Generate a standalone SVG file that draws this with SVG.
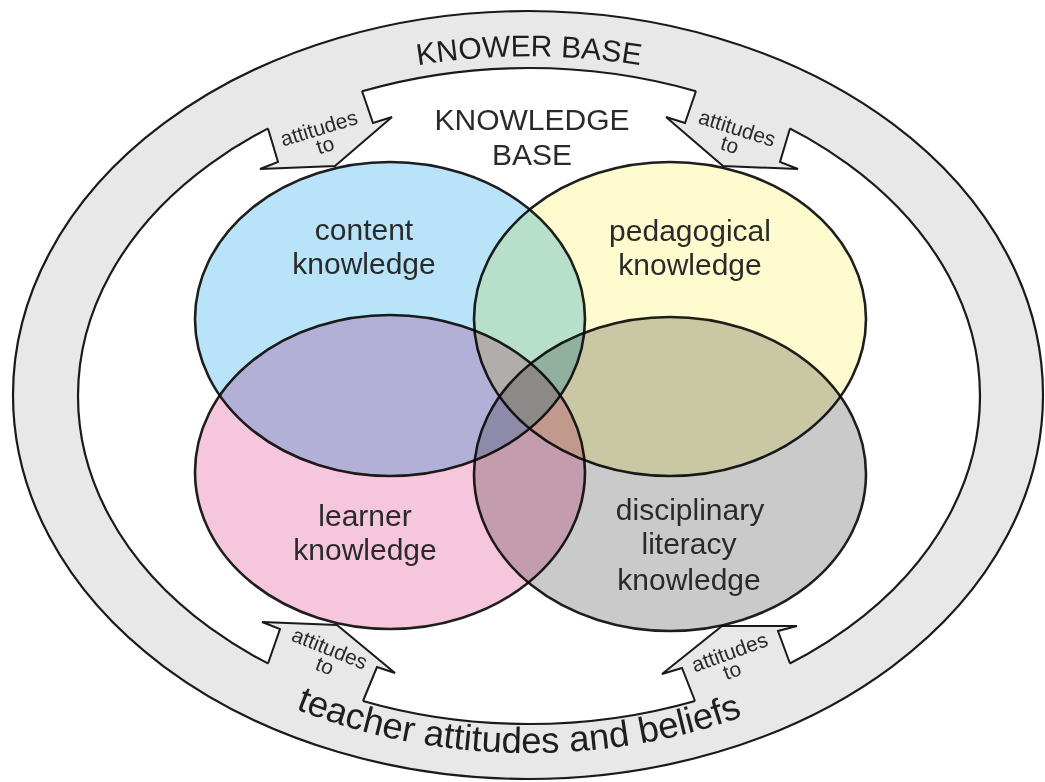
<svg xmlns="http://www.w3.org/2000/svg" width="1045" height="782" viewBox="0 0 1045 782">
  <style>
    .band { fill: #e8e8e8; stroke: #1a1a1a; stroke-width: 2.2; }
    .inner { fill: #ffffff; stroke: #1a1a1a; stroke-width: 2.2; }
    .afill { fill: #e8e8e8; stroke: none; }
    .aline { fill: none; stroke: #1a1a1a; stroke-width: 2; stroke-linejoin: miter; }
    .venn { mix-blend-mode: multiply; }
    .venn ellipse { stroke: #1e1e1e; stroke-width: 2.6; }
    .lbl { font-family: "Liberation Sans", Arial, sans-serif; font-size: 30px; fill: #2a2a2a; text-anchor: middle; }
    .att { font-family: "Liberation Sans", Arial, sans-serif; font-size: 21px; fill: #2a2a2a; text-anchor: middle; }
    .big { font-family: "Liberation Sans", Arial, sans-serif; fill: #1e1e1e; }
  </style>
  <defs>
    <path id="topArc" d="M 45 396 A 483 339 0 0 1 1013 396"/>
    <path id="botArc" d="M 44 396 A 485 357 0 0 0 1014 396"/>
  </defs>

  <g id="knower-base">
    <ellipse class="band" cx="528" cy="395" rx="515" ry="384"/>
    <ellipse class="inner" cx="529" cy="396" rx="451" ry="328"/>
  </g>

  <g id="connectors">
    <g id="arrow-top-left">
      <polygon class="afill" points="263,112 268,128.5 278,162 260,169 335,166 392,117 373,123 362,91 356,75"/>
      <polyline class="aline" points="268,128.5 278,162 260,169 335,166 392,117 373,123 362,91"/>
      <g transform="translate(321,135) rotate(-17)">
        <text class="att" x="0" y="0">attitudes</text>
        <text class="att" x="1" y="18">to</text>
      </g>
    </g>
    <g id="arrow-top-right">
      <polygon class="afill" points="795,112 790,128.5 780,162 798,169 723,166 666,117 685,123 696,91 702,75"/>
      <polyline class="aline" points="790,128.5 780,162 798,169 723,166 666,117 685,123 696,91"/>
      <g transform="translate(735,135) rotate(17.5)">
        <text class="att" x="0" y="0">attitudes</text>
        <text class="att" x="-2" y="18">to</text>
      </g>
    </g>
    <g id="arrow-bottom-left">
      <polygon class="afill" points="263,680 268,663.5 280,629 262,622 337,625 395,673 377,667 363,701 357,717"/>
      <polyline class="aline" points="268,663.5 280,629 262,622 337,625 395,673 377,667 363,701"/>
      <g transform="translate(327,655) rotate(22)">
        <text class="att" x="0" y="0">attitudes</text>
        <text class="att" x="2" y="18">to</text>
      </g>
    </g>
    <g id="arrow-bottom-right">
      <polygon class="afill" points="795,680 790,663.5 778,631 797,626 722,626 662,674 682,668 695,701 701,717"/>
      <polyline class="aline" points="790,663.5 778,631 797,626 722,626 662,674 682,668 695,701"/>
      <g transform="translate(732,659) rotate(-20)">
        <text class="att" x="0" y="0">attitudes</text>
        <text class="att" x="-4" y="18">to</text>
      </g>
    </g>
  </g>

  <g id="knower-base-labels">
    <text class="big" font-size="30" text-anchor="middle"><textPath href="#topArc" startOffset="50%">KNOWER BASE</textPath></text>
    <text class="big" font-size="36.5" text-anchor="middle"><textPath href="#botArc" startOffset="49.2%">teacher attitudes and beliefs</textPath></text>
  </g>

  <g id="knowledge-base">
    <text class="lbl" x="532" y="130">KNOWLEDGE</text>
    <text class="lbl" x="532" y="165">BASE</text>
  </g>

  <g id="content-knowledge" class="venn">
    <ellipse cx="390" cy="319" rx="195" ry="157" fill="#b9e3f8"/>
    <text class="lbl" x="364" y="240">content</text>
    <text class="lbl" x="364" y="274">knowledge</text>
  </g>
  <g id="pedagogical-knowledge" class="venn">
    <ellipse cx="670" cy="319" rx="196" ry="157" fill="#fefbcf"/>
    <text class="lbl" x="690" y="241">pedagogical</text>
    <text class="lbl" x="690" y="275">knowledge</text>
  </g>
  <g id="learner-knowledge" class="venn">
    <ellipse cx="390" cy="472" rx="195" ry="157" fill="#f6c6dc"/>
    <text class="lbl" x="365" y="526">learner</text>
    <text class="lbl" x="365" y="560">knowledge</text>
  </g>
  <g id="disciplinary-literacy-knowledge" class="venn">
    <ellipse cx="670" cy="474" rx="196" ry="157" fill="#cacaca"/>
    <text class="lbl" x="690" y="520">disciplinary</text>
    <text class="lbl" x="689" y="554">literacy</text>
    <text class="lbl" x="689" y="590">knowledge</text>
  </g>
</svg>
